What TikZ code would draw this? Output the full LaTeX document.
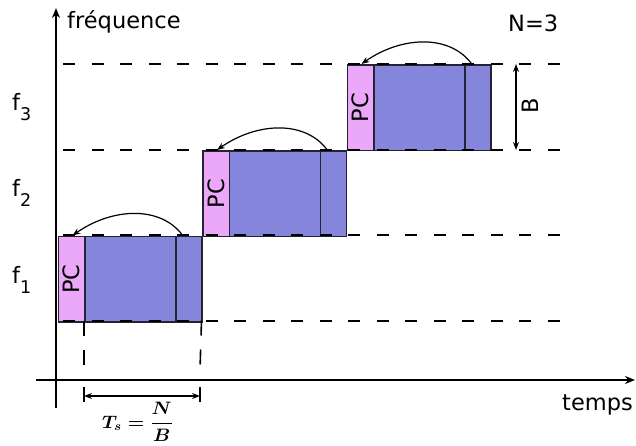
\RequirePackage{fix-cm}
\documentclass[tikz,border=0pt]{standalone}
\usepackage{amsmath}
\usepackage{fontspec}
\setmainfont{DejaVu Sans}
\usetikzlibrary{arrows.meta}
\definecolor{pcpink}{RGB}{236,168,248}
\definecolor{blockblue}{RGB}{133,133,219}
\definecolor{edgecol}{RGB}{35,35,50}
\begin{document}
\begin{tikzpicture}[x=1pt,y=-1pt,
  lbl/.style={font=\fontsize{22.5}{27}\selectfont, inner sep=0pt},
  pcbox/.style={draw=edgecol, line width=1.5pt, fill=pcpink, minimum width=26.5pt, minimum height=85.5pt, inner sep=0pt, anchor=north west, font=\fontsize{22.5}{27}\selectfont},
  bigbox/.style={draw=edgecol, line width=1.5pt, fill=blockblue, minimum width=91pt, minimum height=85.5pt, inner sep=0pt, anchor=north west},
  smallbox/.style={draw=edgecol, line width=1.5pt, fill=blockblue, minimum width=26pt, minimum height=85.5pt, inner sep=0pt, anchor=north west},
  level/.style={line width=1.8pt, dash pattern=on 12pt off 16.5pt},
  axis/.style={line width=1.8pt, -{Stealth[length=10pt,width=8pt]}},
  hop/.style={line width=1.2pt, -{Stealth[length=8pt,width=6pt]}},
  dim/.style={line width=1.2pt, {Stealth[length=8pt,width=6pt]}-{Stealth[length=8pt,width=6pt]}},
  mathlbl/.style={inner sep=0pt, font=\fontsize{18}{21}\selectfont\boldmath}]
\useasboundingbox (0,0) rectangle (636,445);

% axes
\coordinate (yb) at (56,408);
\coordinate (yt) at (56,8);
\coordinate (xl) at (36,380);
\coordinate (xr) at (635,380);
\draw[axis] (yb) -- (yt);
\draw[axis] (xl) -- (xr);

% blocks
\node[pcbox] (pc1) at (57.5,235.5) {\rotatebox{90}{PC}};
\node[bigbox] (m1) at (84,235.5) {};
\node[smallbox] (s1) at (175,235.5) {};
\node[pcbox] (pc2) at (202,150) {\rotatebox{90}{PC}};
\node[bigbox] (m2) at (228.5,150) {};
\node[smallbox] (s2) at (319.5,150) {};
\node[pcbox] (pc3) at (346.5,64) {\rotatebox{90}{PC}};
\node[bigbox] (m3) at (373,64) {};
\node[smallbox] (s3) at (464,64) {};

% dashed levels
\foreach \yy/\nm in {64/a,150/b,235/c,321/d}{
  \coordinate (L\nm) at (63,\yy);
  \coordinate (R\nm) at (568,\yy);
  \draw[level] (L\nm) -- (R\nm);
}

% curved arrows
\draw[hop] ([xshift=-6pt]s1.north) .. controls +(-22,-30) and +(40,-28) .. ([xshift=1pt]pc1.north);
\draw[hop] ([xshift=-6pt]s2.north) .. controls +(-22,-30) and +(40,-28) .. ([xshift=1pt]pc2.north);
\draw[hop] ([xshift=-6pt]s3.north) .. controls +(-22,-30) and +(40,-28) .. ([xshift=1pt]pc3.north);

% symbol period
\coordinate (v1e) at (84,370);
\coordinate (v2e) at (200,370);
\draw[line width=1.6pt, dash pattern=on 15pt off 14pt] ([yshift=2pt]m1.south west) -- (v1e);
\draw[line width=1.6pt, dash pattern=on 15pt off 14pt] ([xshift=-1pt,yshift=2pt]s1.south east) -- (v2e);
\coordinate (t1a) at (84,387); \coordinate (t1b) at (84,402);
\coordinate (t2a) at (200,387); \coordinate (t2b) at (200,402);
\draw[line width=1.5pt] (t1a) -- (t1b);
\draw[line width=1.5pt] (t2a) -- (t2b);
\coordinate (ta) at (84,396);
\coordinate (tb) at (200,396);
\draw[dim] (ta) -- (tb);
\node[mathlbl, anchor=west] (ts) at (102,422) {\scalebox{1.05}[1]{$T_s=\dfrac{N}{B}$}};

% bandwidth
\coordinate (ba) at (516,64);
\coordinate (bb) at (516,150);
\draw[dim] (ba) -- (bb);
\node[lbl, rotate=90] (B) at (530,106) {B};

% labels
\node[lbl, anchor=base west] (freq) at (67,28) {fréquence};
\node[lbl, anchor=base west] (N) at (508,31) {N=3};
\node[lbl, anchor=base west] (temps) at (562,410) {temps};
\node[lbl, anchor=base west] (f3) at (12,110) {f\raisebox{-10pt}{\fontsize{17.5}{20}\selectfont 3}};
\node[lbl, anchor=base west] (f2) at (12,196) {f\raisebox{-10pt}{\fontsize{17.5}{20}\selectfont 2}};
\node[lbl, anchor=base west] (f1) at (12,283) {f\raisebox{-10pt}{\fontsize{17.5}{20}\selectfont 1}};
\end{tikzpicture}
\end{document}
